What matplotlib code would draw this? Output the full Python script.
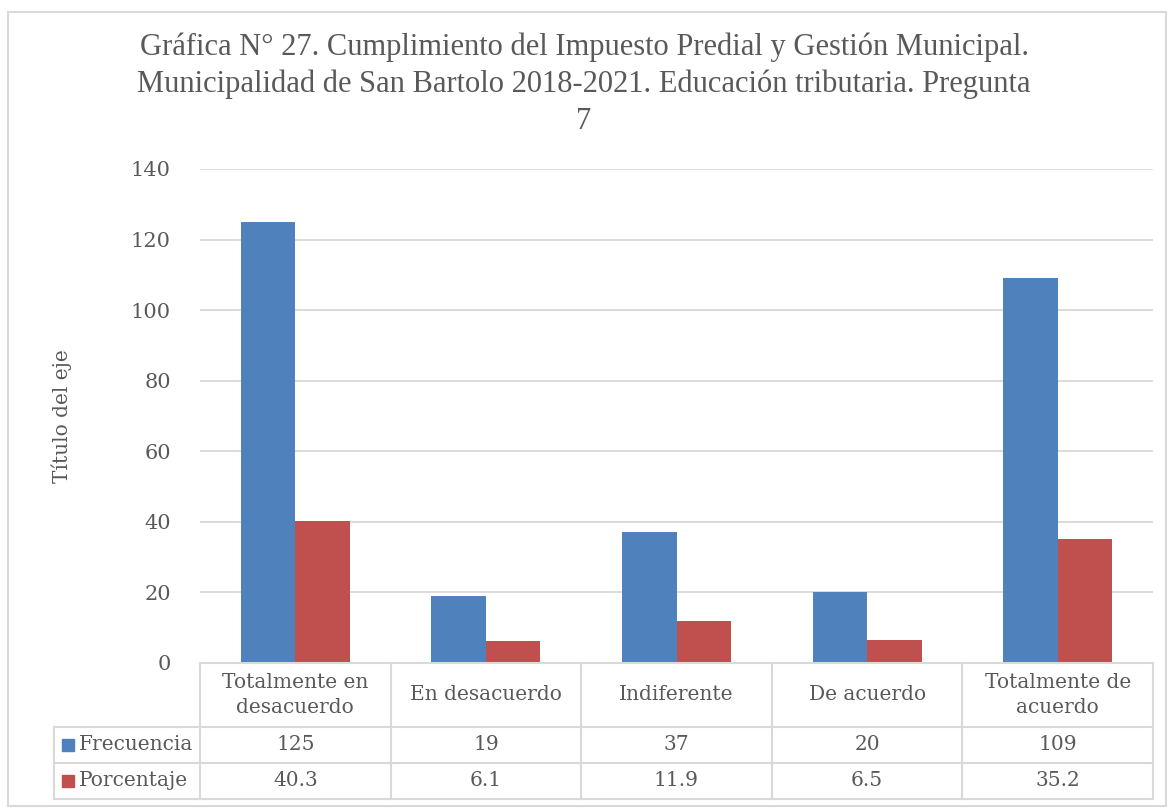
import matplotlib.pyplot as plt
from matplotlib.lines import Line2D
from matplotlib.patches import Rectangle

# Datos de la gráfica
categorias = ["Totalmente en\ndesacuerdo", "En desacuerdo", "Indiferente",
              "De acuerdo", "Totalmente de\nacuerdo"]
frecuencia = [125, 19, 37, 20, 109]
porcentaje = [40.3, 6.1, 11.9, 6.5, 35.2]
series = ["Frecuencia", "Porcentaje"]
valores_tabla = [["125", "19", "37", "20", "109"],
                 ["40.3", "6.1", "11.9", "6.5", "35.2"]]
titulo = ("Gráfica N° 27. Cumplimiento del Impuesto Predial y Gestión Municipal.\n"
          "Municipalidad de San Bartolo 2018-2021. Educación tributaria. Pregunta\n7")

azul = "#4F81BD"
rojo = "#C0504D"
gris_texto = "#595959"
gris_linea = "#D9D9D9"

W, H = 1168, 808
fig = plt.figure(figsize=(W / 100, H / 100), dpi=100)
plt.rcParams["font.family"] = ["DejaVu Serif"]


def fx(px):
    return px / W


def fy(py):
    return 1 - py / H


# Área del gráfico (en píxeles)
x0, x1 = 200, 1153
y_top, y_base = 169, 663
ax = fig.add_axes([fx(x0), fy(y_base), fx(x1) - fx(x0), fy(y_top) - fy(y_base)])

n = len(categorias)
w = 1 / 3.5
pos = list(range(n))
ax.bar([p - w / 2 for p in pos], frecuencia, width=w, color=azul, zorder=3)
ax.bar([p + w / 2 for p in pos], porcentaje, width=w, color=rojo, zorder=3)

ax.set_xlim(-0.5, n - 0.5)
ax.set_ylim(0, 140)
ax.set_yticks(range(0, 141, 20))
ax.set_xticks([])
ax.tick_params(axis="y", length=0, labelsize=15, labelcolor=gris_texto, pad=21)
ax.grid(axis="y", color=gris_linea, linewidth=1.3, zorder=0)
for s in ax.spines.values():
    s.set_visible(False)
ax.set_ylabel("Título del eje", fontsize=14.5, color=gris_texto, labelpad=42)

fig.text(0.5, fy(84), titulo, ha="center", va="center", fontsize=22,
         color=gris_texto, family="Liberation Serif", linespacing=1.35)

# Tabla de datos bajo el eje
fig.canvas.draw()
bordes = [ax.transData.transform((i - 0.5, 0))[0] for i in range(n + 1)]
x_lab = 54
y_rows = [663, 727, 763, 799]


def linea(xa, xb, ya, yb):
    fig.add_artist(Line2D([fx(xa), fx(xb)], [fy(ya), fy(yb)], color=gris_linea,
                          linewidth=1.5))


linea(bordes[0], bordes[-1], y_rows[0], y_rows[0])
for yr in y_rows[1:]:
    linea(x_lab, bordes[-1], yr, yr)
for b in bordes:
    linea(b, b, y_rows[0], y_rows[-1])
linea(x_lab, x_lab, y_rows[1], y_rows[-1])

for i, cat in enumerate(categorias):
    xc = (bordes[i] + bordes[i + 1]) / 2
    fig.text(fx(xc), fy((y_rows[0] + y_rows[1]) / 2), cat, ha="center", va="center",
             fontsize=14.5, color=gris_texto, linespacing=1.45)
    for j in range(len(series)):
        fig.text(fx(xc), fy((y_rows[j + 1] + y_rows[j + 2]) / 2), valores_tabla[j][i],
                 ha="center", va="center", fontsize=14.5, color=gris_texto)

for j, (nombre, color) in enumerate(zip(series, [azul, rojo])):
    yc = (y_rows[j + 1] + y_rows[j + 2]) / 2
    fig.add_artist(Rectangle((fx(62), fy(yc + 6)), fx(12), 12 / H, color=color))
    fig.text(fx(79), fy(yc), nombre, ha="left", va="center", fontsize=14.5,
             color=gris_texto)

# Marco exterior
fig.add_artist(Rectangle((fx(8), fy(806)), fx(1166 - 8), (806 - 12) / H,
                         fill=False, edgecolor=gris_linea, linewidth=1.5))

fig.savefig("out.png", dpi=100)
